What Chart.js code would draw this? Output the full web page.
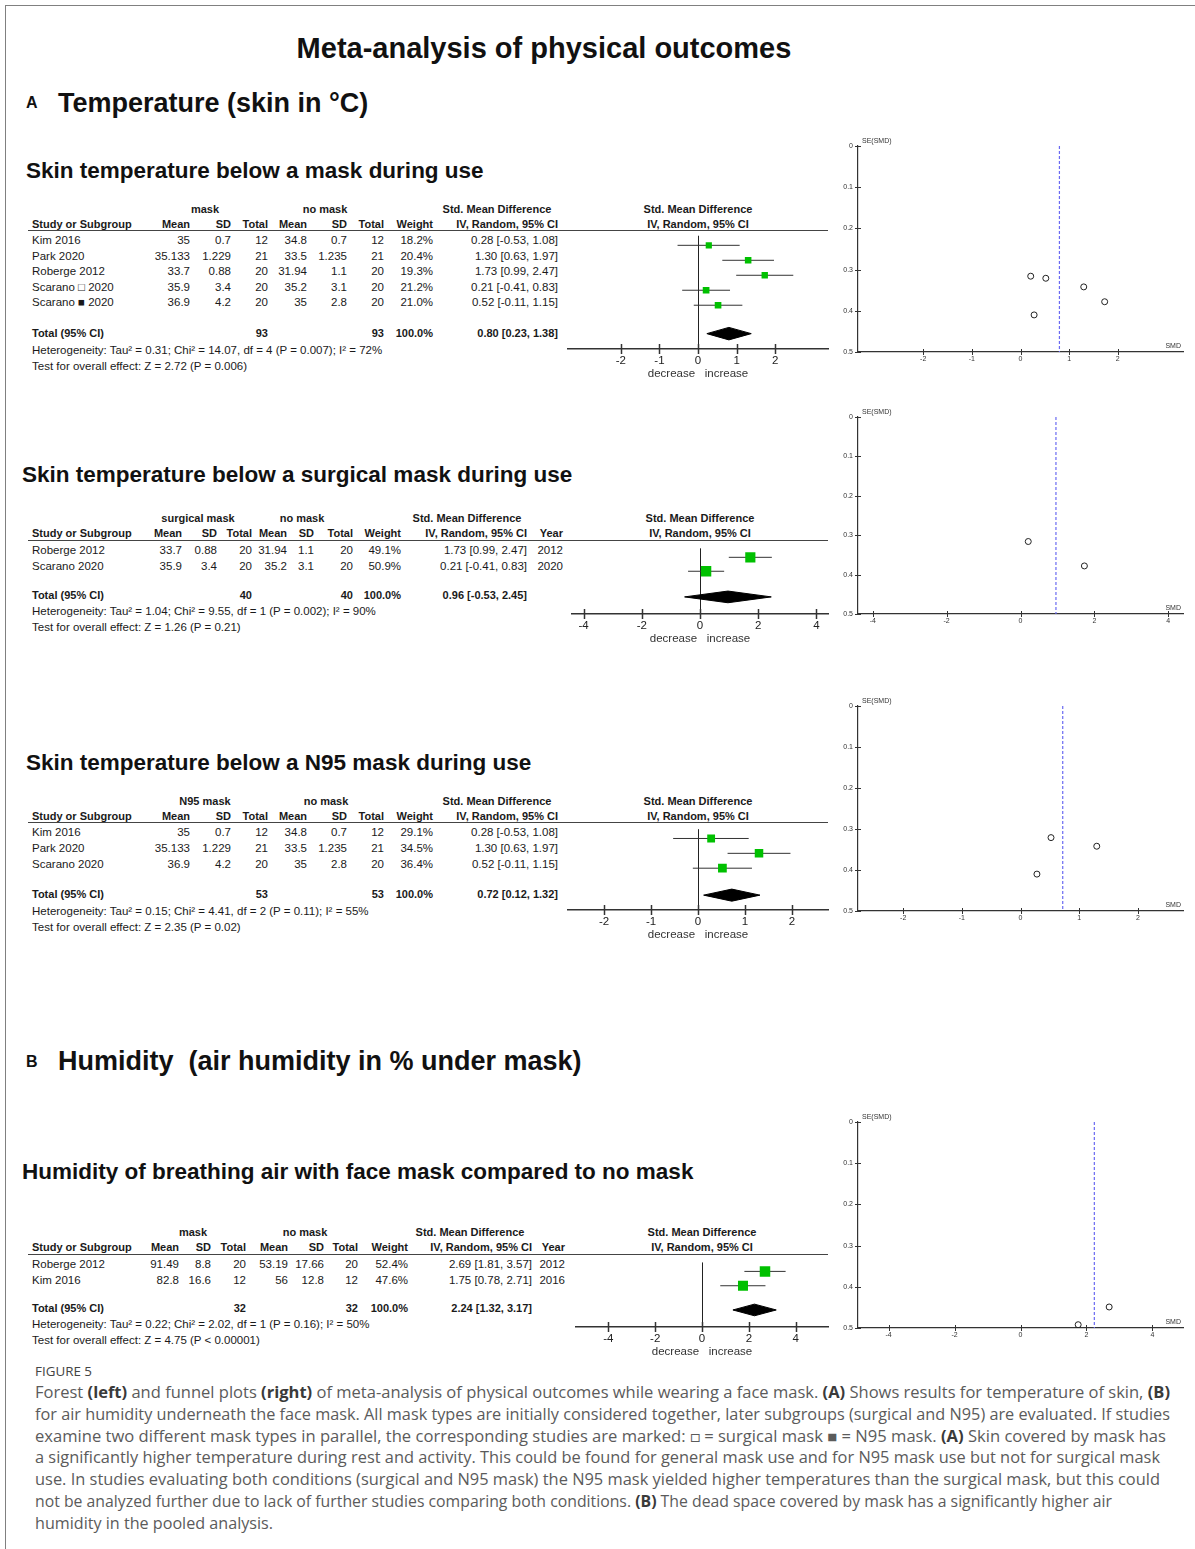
<!DOCTYPE html>
<html>
<head>
<meta charset="utf-8">
<script src="https://cdn.jsdelivr.net/npm/chart.js@4.4.1/dist/chart.umd.min.js"></script>
<style>
body{margin:0;background:#fff;}
#page{position:relative;width:1195px;height:1549px;overflow:hidden;font-family:"Liberation Sans",Arial,sans-serif;color:#111;}
#frame{position:absolute;left:5px;top:5px;right:-2px;bottom:-2px;border-left:1.5px solid #808080;border-top:1.5px solid #808080;}
.t{position:absolute;white-space:pre;line-height:1;}
.l{transform:translateY(-50%);}
.r{transform:translate(-100%,-50%);}
.c{transform:translate(-50%,-50%);}
.tb{font-size:11.5px;color:#1a1a1a;}
.tb.b{font-size:11px;}
.b{font-weight:bold;}
.rule{position:absolute;height:0;border-top:1.5px solid #444;}
canvas{position:absolute;}
.cap{position:absolute;left:35px;white-space:nowrap;font-family:"Open Sans",Lato,sans-serif;font-size:15.4px;color:#5b5b5b;line-height:1;transform-origin:0 50%;}
.cap b{color:#3a3a3a;}
</style>
</head>
<body>
<div id="page"><div id="frame"></div></div>
<script>
// ---- A: skin temperature, all masks
var p1Studies  = ['Kim 2016', 'Park 2020', 'Roberge 2012', 'Scarano \u25A1 2020', 'Scarano \u25A0 2020'];
var p1MaskMean = [35, 35.133, 33.7, 35.9, 36.9];
var p1MaskSd   = [0.7, 1.229, 0.88, 3.4, 4.2];
var p1MaskN    = [12, 21, 20, 20, 20];
var p1NoMean   = [34.8, 33.5, 31.94, 35.2, 35];
var p1NoSd     = [0.7, 1.235, 1.1, 3.1, 2.8];
var p1NoN      = [12, 21, 20, 20, 20];
var p1Weight   = [18.2, 20.4, 19.3, 21.2, 21.0];
var p1Smd      = [0.28, 1.30, 1.73, 0.21, 0.52];
var p1Lo       = [-0.53, 0.63, 0.99, -0.41, -0.11];
var p1Hi       = [1.08, 1.97, 2.47, 0.83, 1.15];
var p1Se       = [0.41, 0.342, 0.378, 0.316, 0.321];
var p1Pooled   = [0.80, 0.23, 1.38];
var p1TotalN   = [93, 93];
var p1Het  = 'Heterogeneity: Tau\u00B2 = 0.31; Chi\u00B2 = 14.07, df = 4 (P = 0.007); I\u00B2 = 72%';
var p1Test = 'Test for overall effect: Z = 2.72 (P = 0.006)';
var p1Ticks = [-2, -1, 0, 1, 2];

// ---- surgical mask
var p2Studies  = ['Roberge 2012', 'Scarano 2020'];
var p2MaskMean = [33.7, 35.9];
var p2MaskSd   = [0.88, 3.4];
var p2MaskN    = [20, 20];
var p2NoMean   = [31.94, 35.2];
var p2NoSd     = [1.1, 3.1];
var p2NoN      = [20, 20];
var p2Weight   = [49.1, 50.9];
var p2Smd      = [1.73, 0.21];
var p2Lo       = [0.99, -0.41];
var p2Hi       = [2.47, 0.83];
var p2Year     = [2012, 2020];
var p2Se       = [0.378, 0.316];
var p2Pooled   = [0.96, -0.53, 2.45];
var p2TotalN   = [40, 40];
var p2Het  = 'Heterogeneity: Tau\u00B2 = 1.04; Chi\u00B2 = 9.55, df = 1 (P = 0.002); I\u00B2 = 90%';
var p2Test = 'Test for overall effect: Z = 1.26 (P = 0.21)';
var p2Ticks = [-4, -2, 0, 2, 4];

// ---- N95 mask
var p3Studies  = ['Kim 2016', 'Park 2020', 'Scarano 2020'];
var p3MaskMean = [35, 35.133, 36.9];
var p3MaskSd   = [0.7, 1.229, 4.2];
var p3MaskN    = [12, 21, 20];
var p3NoMean   = [34.8, 33.5, 35];
var p3NoSd     = [0.7, 1.235, 2.8];
var p3NoN      = [12, 21, 20];
var p3Weight   = [29.1, 34.5, 36.4];
var p3Smd      = [0.28, 1.30, 0.52];
var p3Lo       = [-0.53, 0.63, -0.11];
var p3Hi       = [1.08, 1.97, 1.15];
var p3Se       = [0.41, 0.342, 0.321];
var p3Pooled   = [0.72, 0.12, 1.32];
var p3TotalN   = [53, 53];
var p3Het  = 'Heterogeneity: Tau\u00B2 = 0.15; Chi\u00B2 = 4.41, df = 2 (P = 0.11); I\u00B2 = 55%';
var p3Test = 'Test for overall effect: Z = 2.35 (P = 0.02)';
var p3Ticks = [-2, -1, 0, 1, 2];

// ---- B: humidity
var p4Studies  = ['Roberge 2012', 'Kim 2016'];
var p4MaskMean = [91.49, 82.8];
var p4MaskSd   = [8.8, 16.6];
var p4MaskN    = [20, 12];
var p4NoMean   = [53.19, 56];
var p4NoSd     = [17.66, 12.8];
var p4NoN      = [20, 12];
var p4Weight   = [52.4, 47.6];
var p4Smd      = [2.69, 1.75];
var p4Lo       = [1.81, 0.78];
var p4Hi       = [3.57, 2.71];
var p4Year     = [2012, 2016];
var p4Se       = [0.449, 0.492];
var p4Pooled   = [2.24, 1.32, 3.17];
var p4TotalN   = [32, 32];
var p4Het  = 'Heterogeneity: Tau\u00B2 = 0.22; Chi\u00B2 = 2.02, df = 1 (P = 0.16); I\u00B2 = 50%';
var p4Test = 'Test for overall effect: Z = 4.75 (P < 0.00001)';
var p4Ticks = [-4, -2, 0, 2, 4];

var seTicks = [0, 0.1, 0.2, 0.3, 0.4, 0.5];

// layout of each panel (pixels) + which arrays it uses
var panels = [
  { title: 'Skin temperature below a mask during use', g1: 'mask',
    studies: p1Studies, cols: [p1MaskMean, p1MaskSd, p1MaskN, p1NoMean, p1NoSd, p1NoN],
    weight: p1Weight, smd: p1Smd, lo: p1Lo, hi: p1Hi, se: p1Se, year: null,
    pooled: p1Pooled, totals: p1TotalN, het: p1Het, test: p1Test, ticks: p1Ticks,
    titleX: 26, titleY: 171, hdrY: 209, underY: 231, rowY: 241, rh: 15.6, totY: 333, hetY: 351,
    colX: [190, 231, 268, 307, 347, 384, 433, 558], yearX: 0, g1X: 205, g2X: 325, smdX: 497,
    fL: 568, fR: 828, axisY: 349, fRange: 3.37, fuTop: 146, fuBot: 352, fuRange: 3.34 },
  { title: 'Skin temperature below a surgical mask during use', g1: 'surgical mask',
    studies: p2Studies, cols: [p2MaskMean, p2MaskSd, p2MaskN, p2NoMean, p2NoSd, p2NoN],
    weight: p2Weight, smd: p2Smd, lo: p2Lo, hi: p2Hi, se: p2Se, year: p2Year,
    pooled: p2Pooled, totals: p2TotalN, het: p2Het, test: p2Test, ticks: p2Ticks,
    titleX: 22, titleY: 475, hdrY: 518, underY: 541, rowY: 551, rh: 15.5, totY: 595, hetY: 612,
    colX: [182, 217, 252, 287, 314, 353, 401, 527], yearX: 563, g1X: 198, g2X: 302, smdX: 467,
    fL: 572, fR: 828, axisY: 614, fRange: 4.4, fuTop: 417, fuBot: 614, fuRange: 4.4 },
  { title: 'Skin temperature below a N95 mask during use', g1: 'N95 mask',
    studies: p3Studies, cols: [p3MaskMean, p3MaskSd, p3MaskN, p3NoMean, p3NoSd, p3NoN],
    weight: p3Weight, smd: p3Smd, lo: p3Lo, hi: p3Hi, se: p3Se, year: null,
    pooled: p3Pooled, totals: p3TotalN, het: p3Het, test: p3Test, ticks: p3Ticks,
    titleX: 26, titleY: 763, hdrY: 801, underY: 823, rowY: 833, rh: 16, totY: 894, hetY: 912,
    colX: [190, 231, 268, 307, 347, 384, 433, 558], yearX: 0, g1X: 205, g2X: 326, smdX: 497,
    fL: 568, fR: 828, axisY: 910, fRange: 2.77, fuTop: 706, fuBot: 911, fuRange: 2.77 },
  { title: 'Humidity of breathing air with face mask compared to no mask', g1: 'mask',
    studies: p4Studies, cols: [p4MaskMean, p4MaskSd, p4MaskN, p4NoMean, p4NoSd, p4NoN],
    weight: p4Weight, smd: p4Smd, lo: p4Lo, hi: p4Hi, se: p4Se, year: p4Year,
    pooled: p4Pooled, totals: p4TotalN, het: p4Het, test: p4Test, ticks: p4Ticks,
    titleX: 22, titleY: 1172, hdrY: 1232, underY: 1255, rowY: 1265, rh: 16, totY: 1308, hetY: 1325,
    colX: [179, 211, 246, 288, 324, 358, 408, 532], yearX: 565, g1X: 193, g2X: 305, smdX: 470,
    fL: 576, fR: 828, axisY: 1327, fRange: 5.38, fuTop: 1122, fuBot: 1328, fuRange: 4.93 }
];

var page = document.getElementById('page');

function txt(s, x, y, cls, style) {
  var d = document.createElement('div');
  d.className = 't ' + cls;
  d.textContent = s;
  d.style.left = x + 'px';
  d.style.top = y + 'px';
  if (style) Object.assign(d.style, style);
  page.appendChild(d);
  return d;
}
function ci(s, lo, hi) { return s.toFixed(2) + ' [' + lo.toFixed(2) + ', ' + hi.toFixed(2) + ']'; }

// big headings
txt('Meta-analysis of physical outcomes', 544, 48, 'c b', {fontSize: '29px'});
txt('A', 26, 103, 'l b', {fontSize: '16px'});
txt('Temperature (skin in \u00B0C)', 58, 103, 'l b', {fontSize: '27px'});
txt('B', 26, 1062, 'l b', {fontSize: '16px'});
txt('Humidity  (air humidity in % under mask)', 58, 1061, 'l b', {fontSize: '27px'});

// draws the forest zero line and the crossing tick marks
var forestPlugin = {
  id: 'forestBits',
  beforeDatasetsDraw: function(chart) {
    var ctx = chart.ctx, a = chart.chartArea, x = chart.scales.x;
    var zx = Math.round(x.getPixelForValue(0)) + 0.5;
    ctx.save();
    ctx.strokeStyle = '#222';
    ctx.lineWidth = 1;
    ctx.beginPath(); ctx.moveTo(zx, a.top); ctx.lineTo(zx, a.bottom); ctx.stroke();
    ctx.restore();
  },
  afterDraw: function(chart) {
    var ctx = chart.ctx, a = chart.chartArea, x = chart.scales.x;
    ctx.save();
    ctx.strokeStyle = '#333';
    ctx.lineWidth = 1.5;
    x.ticks.forEach(function(t) {
      var px = Math.round(x.getPixelForValue(t.value)) + 0.5;
      ctx.beginPath(); ctx.moveTo(px, a.bottom - 5); ctx.lineTo(px, a.bottom + 5); ctx.stroke();
    });
    ctx.restore();
  }
};

var funnelPlugin = {
  id: 'funnelBits',
  afterDraw: function(chart) {
    var ctx = chart.ctx, a = chart.chartArea, x = chart.scales.x, y = chart.scales.y;
    ctx.save();
    ctx.strokeStyle = '#333';
    ctx.lineWidth = 1;
    x.ticks.forEach(function(t) {
      var px = Math.round(x.getPixelForValue(t.value)) + 0.5;
      ctx.beginPath(); ctx.moveTo(px, a.bottom - 3); ctx.lineTo(px, a.bottom + 3); ctx.stroke();
    });
    y.ticks.forEach(function(t) {
      var py = Math.round(y.getPixelForValue(t.value)) + 0.5;
      ctx.beginPath(); ctx.moveTo(a.left - 3, py); ctx.lineTo(a.left + 3, py); ctx.stroke();
    });
    ctx.fillStyle = '#333';
    ctx.font = '7px "Liberation Sans"';
    ctx.textAlign = 'left';
    ctx.fillText('SE(SMD)', a.left + 4, a.top - 3);
    ctx.textAlign = 'right';
    ctx.fillText('SMD', a.right - 2, a.bottom - 4);
    ctx.restore();
  }
};

function addCanvas(left, top, w, h) {
  var cv = document.createElement('canvas');
  cv.width = w; cv.height = h;
  cv.style.left = left + 'px'; cv.style.top = top + 'px';
  cv.style.width = w + 'px'; cv.style.height = h + 'px';
  page.appendChild(cv);
  return cv;
}

function drawTable(p) {
  var n = p.studies.length;
  var fc = (p.fL + p.fR) / 2;
  txt(p.title, p.titleX, p.titleY, 'l b', {fontSize: '22.5px'});
  // header row 1
  txt(p.g1, p.g1X, p.hdrY, 'c b tb');
  txt('no mask', p.g2X, p.hdrY, 'c b tb');
  txt('Std. Mean Difference', p.smdX, p.hdrY, 'c b tb');
  txt('Std. Mean Difference', fc, p.hdrY, 'c b tb');
  // header row 2
  var y2 = p.hdrY + 15;
  txt('Study or Subgroup', 32, y2, 'l b tb');
  ['Mean', 'SD', 'Total', 'Mean', 'SD', 'Total', 'Weight', 'IV, Random, 95% CI'].forEach(function(h, k) {
    txt(h, p.colX[k], y2, 'r b tb');
  });
  if (p.year) txt('Year', p.yearX, y2, 'r b tb');
  txt('IV, Random, 95% CI', fc, y2, 'c b tb');
  var rule = document.createElement('div');
  rule.className = 'rule';
  rule.style.left = '28px'; rule.style.top = (p.underY - 1) + 'px'; rule.style.width = (p.fR - 28) + 'px';
  page.appendChild(rule);
  // study rows
  for (var i = 0; i < n; i++) {
    var y = p.rowY + i * p.rh;
    txt(p.studies[i], 32, y, 'l tb');
    for (var k = 0; k < 6; k++) txt(String(p.cols[k][i]), p.colX[k], y, 'r tb');
    txt(p.weight[i].toFixed(1) + '%', p.colX[6], y, 'r tb');
    txt(ci(p.smd[i], p.lo[i], p.hi[i]), p.colX[7], y, 'r tb');
    if (p.year) txt(String(p.year[i]), p.yearX, y, 'r tb');
  }
  // total row
  txt('Total (95% CI)', 32, p.totY, 'l b tb');
  txt(String(p.totals[0]), p.colX[2], p.totY, 'r b tb');
  txt(String(p.totals[1]), p.colX[5], p.totY, 'r b tb');
  txt('100.0%', p.colX[6], p.totY, 'r b tb');
  txt(ci(p.pooled[0], p.pooled[1], p.pooled[2]), p.colX[7], p.totY, 'r b tb');
  txt(p.het, 32, p.hetY, 'l tb');
  txt(p.test, 32, p.hetY + 15.5, 'l tb');
}

function drawForest(p) {
  var L = 560, W = 280, axisH = 36;
  var H = p.axisY - p.underY + axisH;
  var cv = addCanvas(L, p.underY, W, H);
  var yMin = -(p.rowY - p.underY) / p.rh;
  var yMax = (p.axisY - p.rowY) / p.rh;
  var tp = (p.totY - p.rowY) / p.rh;   // position of the pooled row
  var dh = 6.5 / p.rh;                 // half height of the diamond
  var ds = [];
  ds.push({
    type: 'scatter',
    data: p.smd.map(function(v, i) { return {x: v, y: i}; }),
    pointStyle: 'rect',
    pointRadius: p.weight.map(function(w) { return Math.sqrt(w) * 1.45 / Math.SQRT2; }),
    backgroundColor: '#00c000', borderColor: '#00c000', borderWidth: 0
  });
  p.lo.forEach(function(lo, i) {
    ds.push({type: 'line', data: [{x: lo, y: i}, {x: p.hi[i], y: i}],
      borderColor: '#333', borderWidth: 1, pointRadius: 0, fill: false});
  });
  ds.push({
    type: 'line',
    data: [{x: p.pooled[1], y: tp}, {x: p.pooled[0], y: tp - dh}, {x: p.pooled[2], y: tp},
           {x: p.pooled[0], y: tp + dh}, {x: p.pooled[1], y: tp}],
    borderColor: '#000', backgroundColor: '#000', borderWidth: 1, pointRadius: 0,
    fill: 'shape', tension: 0
  });
  new Chart(cv, {
    type: 'scatter',
    data: {datasets: ds},
    options: {
      responsive: false, animation: false, events: [], devicePixelRatio: 1,
      layout: {padding: {left: p.fL - L, right: L + W - p.fR, top: 0, bottom: 0}},
      plugins: {legend: {display: false}, tooltip: {enabled: false}},
      scales: {
        x: {
          type: 'linear', min: -p.fRange, max: p.fRange,
          afterFit: function(s) { s.height = axisH; },
          afterBuildTicks: function(s) { s.ticks = p.ticks.map(function(v) { return {value: v}; }); },
          grid: {display: false, drawTicks: false},
          border: {display: true, color: '#333', width: 1.5},
          ticks: {color: '#222', font: {family: 'Liberation Sans', size: 11.5}, padding: 5,
                  autoSkip: false, maxRotation: 0, callback: function(v) { return String(v); }},
          title: {display: true, text: 'decrease   increase', color: '#333',
                  font: {family: 'Liberation Sans', size: 11.5}, padding: {top: 0, bottom: 4}}
        },
        y: {display: false, reverse: true, min: yMin, max: yMax}
      }
    },
    plugins: [forestPlugin]
  });
}

function drawFunnel(p) {
  var L = 830, W = 365, padTop = 14, axisH = 14;
  var H = p.fuBot - p.fuTop + padTop + axisH;
  var cv = addCanvas(L, p.fuTop - padTop, W, H);
  var tickFont = {family: 'Liberation Sans', size: 7};
  new Chart(cv, {
    type: 'scatter',
    data: {datasets: [
      {type: 'scatter', data: p.smd.map(function(v, i) { return {x: v, y: p.se[i]}; }),
       pointStyle: 'circle', pointRadius: 3, backgroundColor: 'rgba(255,255,255,0)',
       borderColor: '#222', borderWidth: 1},
      {type: 'line', data: [{x: p.pooled[0], y: seTicks[0]}, {x: p.pooled[0], y: seTicks[seTicks.length - 1]}],
       borderColor: '#6a6af2', borderDash: [3, 2], borderWidth: 1.2, pointRadius: 0, fill: false}
    ]},
    options: {
      responsive: false, animation: false, events: [], devicePixelRatio: 1,
      layout: {padding: {left: 0, right: L + W - 1183, top: padTop, bottom: 0}},
      plugins: {legend: {display: false}, tooltip: {enabled: false}},
      scales: {
        x: {
          type: 'linear', min: -p.fuRange, max: p.fuRange,
          afterFit: function(s) { s.height = axisH; },
          afterBuildTicks: function(s) { s.ticks = p.ticks.map(function(v) { return {value: v}; }); },
          grid: {display: false, drawTicks: false},
          border: {display: true, color: '#333', width: 1.2},
          ticks: {color: '#333', font: tickFont, padding: 3, autoSkip: false, maxRotation: 0,
                  callback: function(v) { return String(v); }}
        },
        y: {
          type: 'linear', reverse: true, min: seTicks[0], max: seTicks[seTicks.length - 1],
          afterFit: function(s) { s.width = 858 - L; },
          afterBuildTicks: function(s) { s.ticks = seTicks.map(function(v) { return {value: v}; }); },
          grid: {display: false, drawTicks: false},
          border: {display: true, color: '#333', width: 1.2},
          ticks: {color: '#333', font: tickFont, padding: 5, autoSkip: false,
                  callback: function(v) { return String(v); }}
        }
      }
    },
    plugins: [funnelPlugin]
  });
}

panels.forEach(function(p) {
  drawTable(p);
  drawForest(p);
  drawFunnel(p);
});

// caption, one div per printed line
var capLines = [
  'Forest <b>(left)</b> and funnel plots <b>(right)</b> of meta-analysis of physical outcomes while wearing a face mask. <b>(A)</b> Shows results for temperature of skin, <b>(B)</b>',
  'for air humidity underneath the face mask. All mask types are initially considered together, later subgroups (surgical and N95) are evaluated. If studies',
  'examine two different mask types in parallel, the corresponding studies are marked: \u25A1 = surgical mask \u25A0 = N95 mask. <b>(A)</b> Skin covered by mask has',
  'a significantly higher temperature during rest and activity. This could be found for general mask use and for N95 mask use but not for surgical mask',
  'use. In studies evaluating both conditions (surgical and N95 mask) the N95 mask yielded higher temperatures than the surgical mask, but this could',
  'not be analyzed further due to lack of further studies comparing both conditions. <b>(B)</b> The dead space covered by mask has a significantly higher air',
  'humidity in the pooled analysis.'
];
var capEnds = [1170, 1170, 1166, 1160, 1160, 1112, 273];

function fitLine(d, right) {
  var w = d.getBoundingClientRect().width;
  d.style.transform = 'translateY(-50%) scaleX(' + ((right - 35) / w) + ')';
}
var fig = document.createElement('div');
fig.className = 'cap';
fig.style.top = '1372px'; fig.style.fontSize = '12.5px'; fig.style.color = '#444';
fig.textContent = 'FIGURE 5';
page.appendChild(fig);
fitLine(fig, 92);
capLines.forEach(function(h, i) {
  var d = document.createElement('div');
  d.className = 'cap';
  d.style.top = (1393 + i * 21.8) + 'px';
  d.innerHTML = h;
  page.appendChild(d);
  fitLine(d, capEnds[i]);
});
</script>
</body>
</html>
